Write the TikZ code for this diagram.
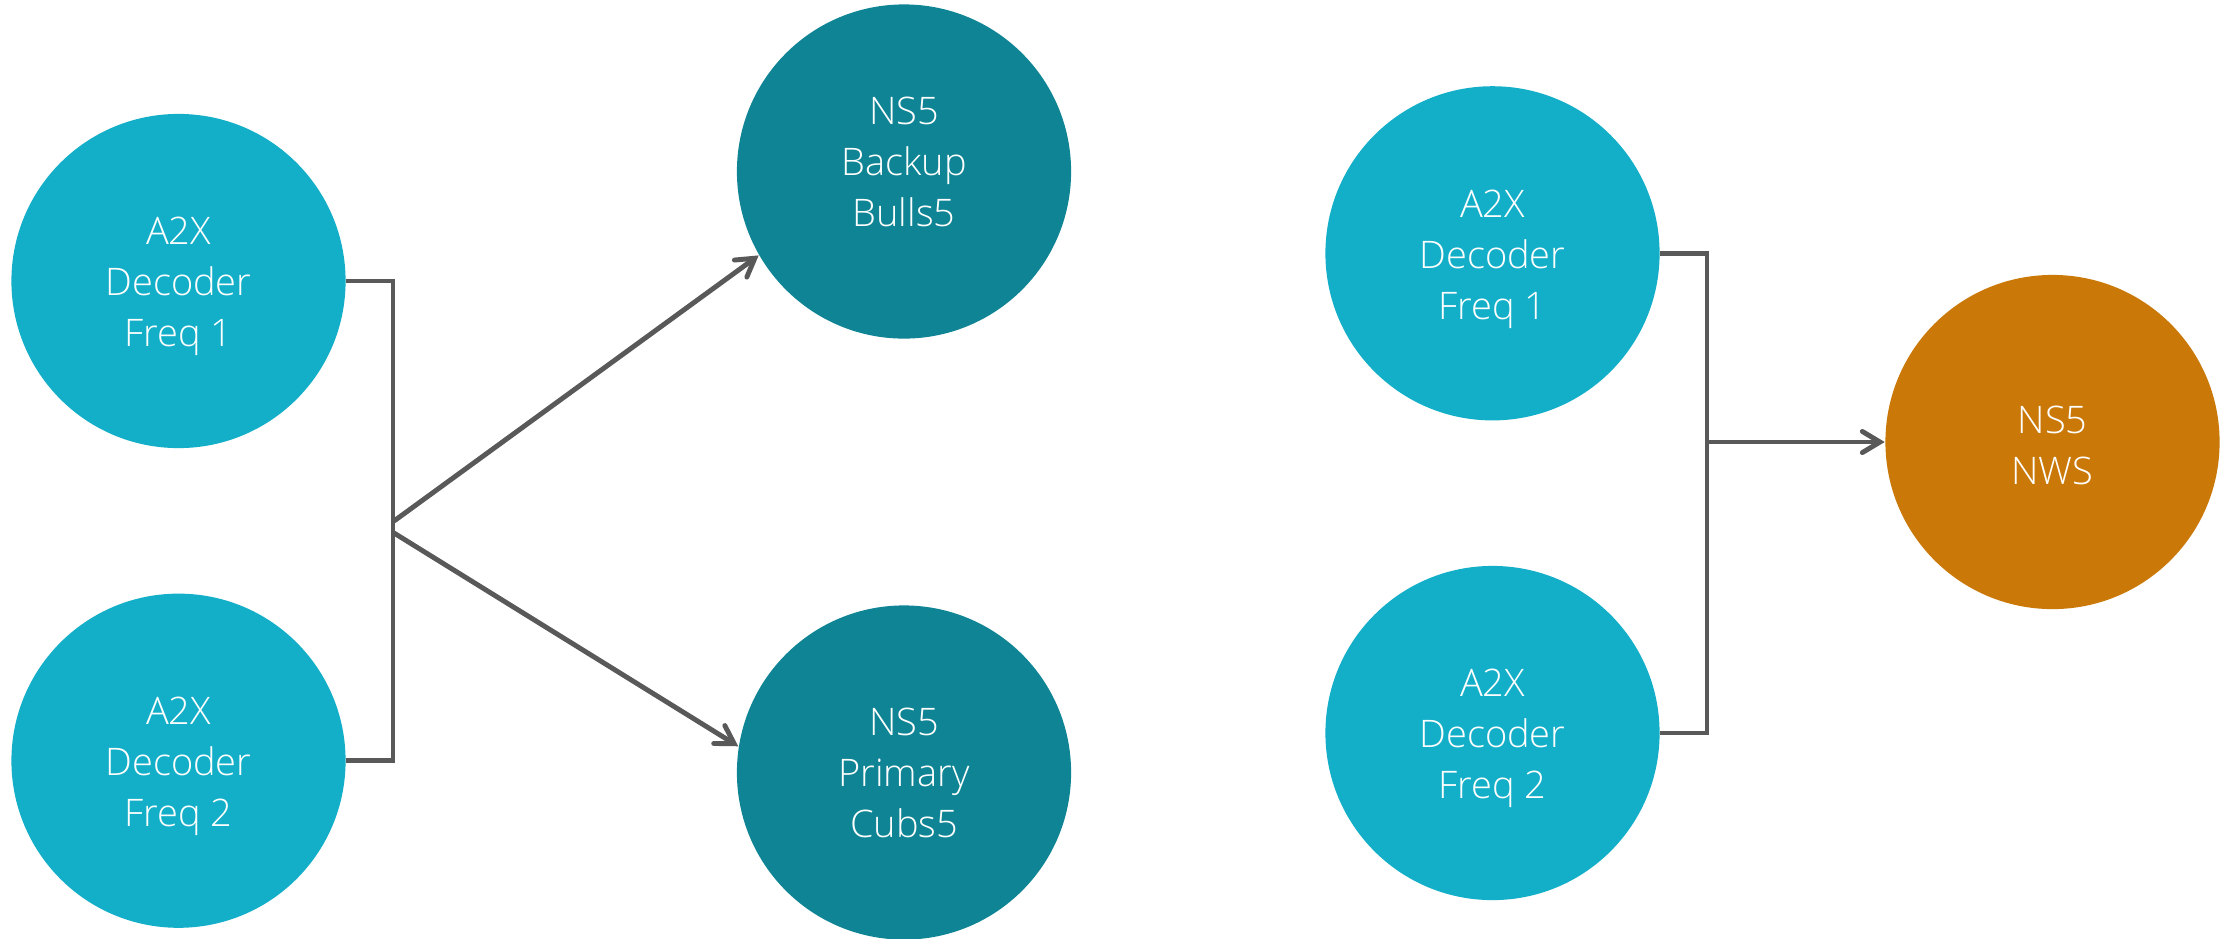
\documentclass[tikz,border=0pt]{standalone}
\usepackage{fontspec}
\setmainfont{Open Sans}[UprightFont=* Light]
\usetikzlibrary{arrows.meta}
\definecolor{cyanc}{HTML}{13AFC8}
\definecolor{tealc}{HTML}{0E8494}
\definecolor{orangec}{HTML}{CA7909}
\definecolor{linec}{HTML}{595959}
\tikzset{
  bubble/.style={circle, minimum size=3.34cm, inner sep=0pt},
  txt/.style={text=white, align=center, inner sep=0pt,
     font=\fontsize{10.8pt}{14.5pt}\selectfont},
  decoder/.style={bubble, fill=cyanc},
  server/.style={bubble, fill=tealc},
  nwsbox/.style={bubble, fill=orangec},
  conn/.style={draw=linec, line width=1.4pt},
  arr/.style={conn, -{Straight Barb[length=5pt,width=6pt,line cap=round]}}
}
\begin{document}
\begin{tikzpicture}[x=0.01cm,y=-0.01cm]
\useasboundingbox (0,0) rectangle (2221,938);
\node[decoder, label={[txt,yshift=-1.6pt]center:A2X\\Decoder\\Freq 1}] (l1) at (178.5,281) {};
\node[decoder, label={[txt,yshift=-1.6pt]center:A2X\\Decoder\\Freq 2}] (l2) at (178.5,760.7) {};
\node[server, label={[txt,yshift=2.6pt]center:NS5\\Backup\\Bulls5}] (ns5b) at (904,171.5) {};
\node[server, label={[txt]center:NS5\\Primary\\Cubs5}] (ns5p) at (904,772.5) {};
\node[decoder, label={[txt,yshift=-1.6pt]center:A2X\\Decoder\\Freq 1}] (r1) at (1492.5,253.3) {};
\node[decoder, label={[txt,yshift=-1.6pt]center:A2X\\Decoder\\Freq 2}] (r2) at (1492.5,733) {};
\node[nwsbox, label={[txt,yshift=-1.1pt]center:NS5\\NWS}] (nws) at (2052.5,442) {};
\coordinate (busL) at (393,0);
\coordinate (j1) at (394,521);
\coordinate (j2) at (394,533);
\draw[conn] (l1.east) -| (busL |- l2.east) -- (l2.east);
\draw[arr] (j1) -- (ns5b.210);
\draw[arr] (j2) -- (ns5p.171);
\coordinate (busR) at (1707,0);
\draw[conn] (r1.east) -| (busR |- r2.east) -- (r2.east);
\draw[arr] (busR |- nws.west) -- (nws.west);
\end{tikzpicture}
\end{document}
